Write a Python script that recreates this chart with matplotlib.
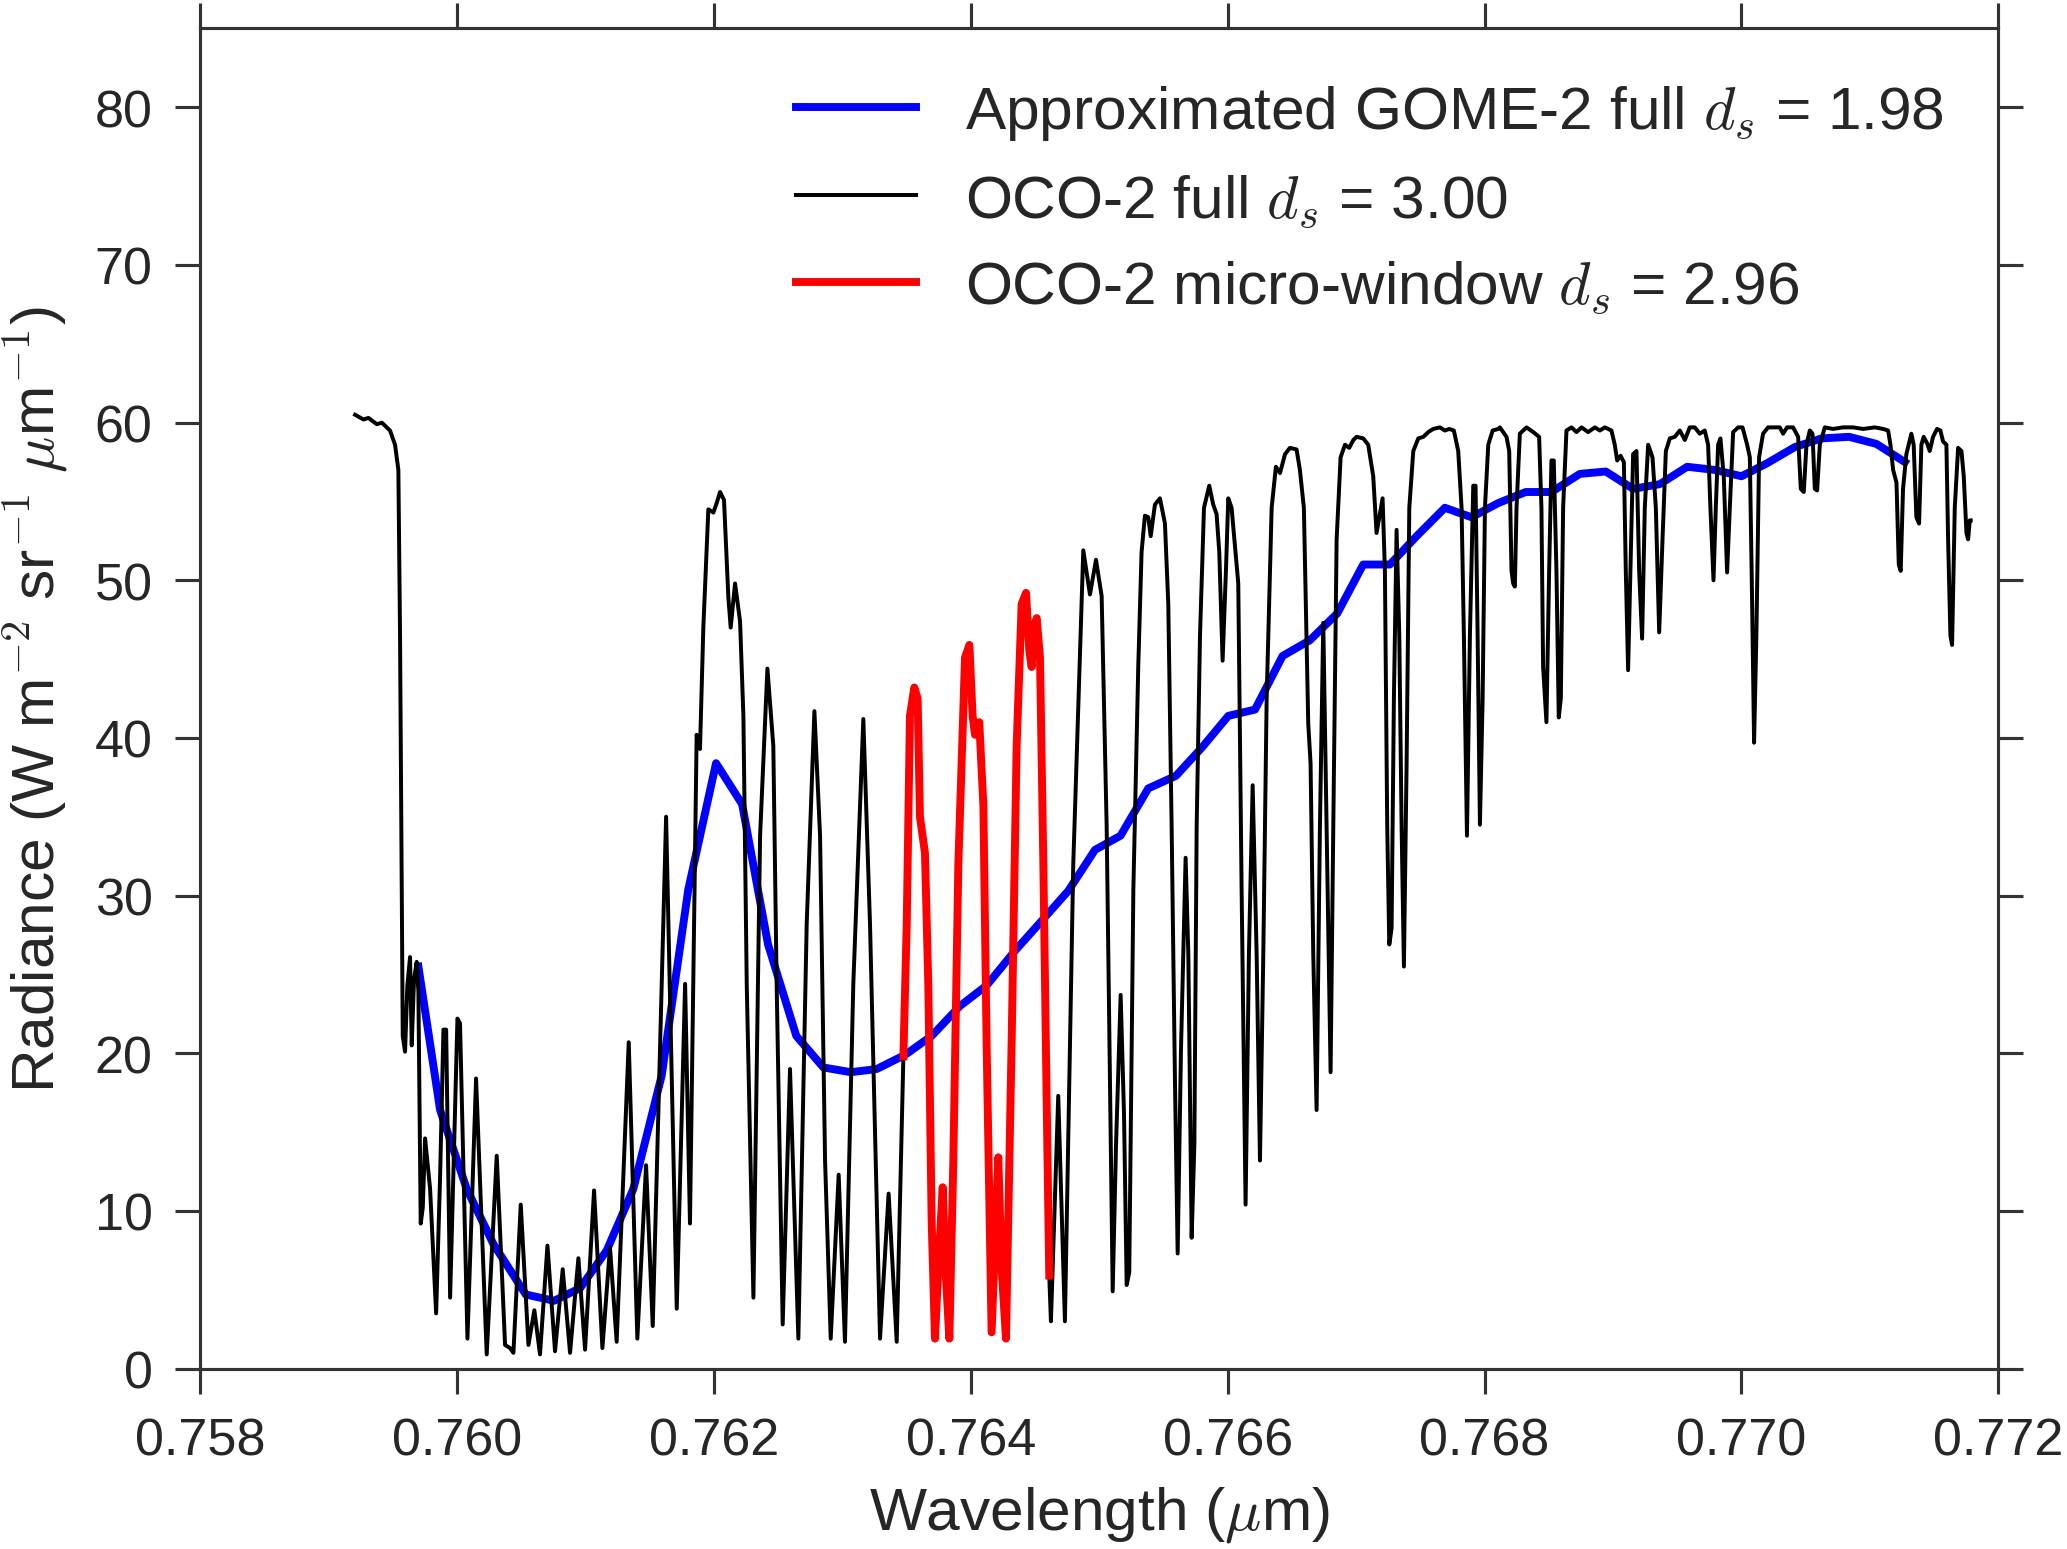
import matplotlib
matplotlib.use("Agg")
import matplotlib.pyplot as plt
import numpy as np

plt.rcParams['font.family'] = ['Liberation Sans', 'DejaVu Sans']
plt.rcParams['mathtext.fontset'] = 'cm'
plt.rcParams['text.color'] = '.15'
plt.rcParams['axes.labelcolor'] = '.15'
plt.rcParams['xtick.color'] = '.15'
plt.rcParams['ytick.color'] = '.15'

# OCO-2 spectrum, left of the micro-window (um, W m-2 sr-1 um-1)
oco_left_wl = [0.759204, 0.759269, 0.759308, 0.759373, 0.759412, 0.759476, 0.759515, 0.759541,
               0.759554, 0.759567, 0.759575, 0.759593, 0.759611, 0.759632, 0.759645, 0.759663,
               0.759684, 0.759697, 0.759715, 0.759731, 0.759749, 0.759788, 0.759835, 0.759866,
               0.759892, 0.759913, 0.759944, 0.760001, 0.760021, 0.760079, 0.760146, 0.760229,
               0.760307, 0.760372, 0.760411, 0.760437, 0.760494, 0.760554, 0.760600, 0.760644,
               0.760702, 0.760761, 0.760821, 0.760878, 0.760943, 0.760995, 0.761065, 0.761130,
               0.761189, 0.761241, 0.761335, 0.761402, 0.761470, 0.761522, 0.761626, 0.761709,
               0.761774, 0.761812, 0.761864, 0.761890, 0.761916, 0.761955, 0.761994, 0.762020,
               0.762046, 0.762077, 0.762111, 0.762129, 0.762163, 0.762202, 0.762228, 0.762254,
               0.762306, 0.762358, 0.762415, 0.762461, 0.762487, 0.762534, 0.762591, 0.762656,
               0.762721, 0.762781, 0.762825, 0.762864, 0.762908, 0.762970, 0.763019, 0.763084,
               0.763162, 0.763214, 0.763292, 0.763359, 0.763422]
oco_left_rad = [60.5, 60.2, 60.3, 59.9, 60.0, 59.5, 58.6, 57.0,
                46.5, 30.4, 21.1, 20.1, 24.3, 26.1, 20.5, 24.7,
                25.8, 23.9, 9.2, 10.2, 14.6, 11.4, 3.5, 12.2,
                21.5, 21.5, 4.5, 22.2, 21.9, 1.9, 18.4, 0.9,
                13.5, 1.5, 1.3, 1.0, 10.4, 1.5, 3.7, 0.9,
                7.8, 1.1, 6.3, 1.0, 7.0, 1.2, 11.3, 1.3,
                7.7, 1.7, 20.7, 1.9, 12.9, 2.7, 35.0, 3.8,
                24.4, 9.2, 40.2, 39.3, 47.0, 54.5, 54.3, 54.9,
                55.6, 55.1, 48.9, 47.0, 49.8, 47.4, 41.4, 24.4,
                4.5, 33.8, 44.4, 39.5, 24.4, 2.8, 19.0, 1.9,
                28.2, 41.7, 33.8, 13.2, 1.9, 12.3, 1.7, 24.4,
                41.2, 28.2, 1.9, 11.1, 1.7]

# OCO-2 micro-window
mw_wl = [0.763474, 0.763500, 0.763525, 0.763559, 0.763585, 0.763603, 0.763642, 0.763668,
         0.763694, 0.763720, 0.763746, 0.763780, 0.763806, 0.763832, 0.763863, 0.763902,
         0.763954, 0.763988, 0.764013, 0.764032, 0.764065, 0.764097, 0.764122, 0.764161,
         0.764213, 0.764239, 0.764273, 0.764317, 0.764356, 0.764395, 0.764429, 0.764455,
         0.764473, 0.764491, 0.764512, 0.764538, 0.764564, 0.764590, 0.764610]
mw_rad = [19.8, 28.2, 41.4, 43.2, 42.5, 35.0, 32.7, 24.4,
          9.4, 1.9, 6.4, 11.5, 5.7, 1.9, 13.2, 32.0,
          45.1, 45.9, 41.4, 40.2, 41.0, 35.7, 20.7, 2.3,
          13.4, 6.4, 1.9, 20.7, 39.5, 48.5, 49.2, 45.5,
          44.5, 47.0, 47.6, 45.1, 32.0, 16.9, 5.9]

# OCO-2 spectrum, right of the micro-window
oco_right_wl = [0.764623, 0.764680, 0.764732, 0.764797, 0.764875, 0.764927, 0.764974, 0.765018,
                0.765057, 0.765104, 0.765130, 0.765166, 0.765192, 0.765213, 0.765233, 0.765265,
                0.765303, 0.765329, 0.765355, 0.765381, 0.765400, 0.765433, 0.765472, 0.765511,
                0.765537, 0.765563, 0.765589, 0.765610, 0.765636, 0.765672, 0.765693, 0.765719,
                0.765740, 0.765758, 0.765784, 0.765815, 0.765856, 0.765887, 0.765913, 0.765934,
                0.765960, 0.765986, 0.766004, 0.766030, 0.766056, 0.766082, 0.766108, 0.766139,
                0.766165, 0.766194, 0.766225, 0.766251, 0.766277, 0.766303, 0.766342, 0.766375,
                0.766407, 0.766446, 0.766484, 0.766536, 0.766562, 0.766593, 0.766627, 0.766645,
                0.766666, 0.766692, 0.766718, 0.766744, 0.766770, 0.766801, 0.766822, 0.766848,
                0.766879, 0.766913, 0.766946, 0.766978, 0.767004, 0.767055, 0.767094, 0.767133,
                0.767159, 0.767185, 0.767206, 0.767224, 0.767242, 0.767258, 0.767276, 0.767294,
                0.767315, 0.767336, 0.767354, 0.767372, 0.767393, 0.767414, 0.767445, 0.767484,
                0.767523, 0.767562, 0.767600, 0.767652, 0.767691, 0.767725, 0.767761, 0.767795,
                0.767821, 0.767839, 0.767863, 0.767886, 0.767912, 0.767930, 0.767946, 0.767964,
                0.767985, 0.768003, 0.768029, 0.768063, 0.768107, 0.768119, 0.768171, 0.768192,
                0.768210, 0.768223, 0.768236, 0.768249, 0.768275, 0.768327, 0.768379, 0.768425,
                0.768443, 0.768456, 0.768482, 0.768503, 0.768521, 0.768539, 0.768560, 0.768578,
                0.768594, 0.768612, 0.768638, 0.768677, 0.768716, 0.768755, 0.768807, 0.768859,
                0.768898, 0.768937, 0.768988, 0.769014, 0.769033, 0.769059, 0.769085, 0.769100,
                0.769118, 0.769136, 0.769157, 0.769183, 0.769204, 0.769227, 0.769248, 0.769274,
                0.769308, 0.769334, 0.769360, 0.769386, 0.769412, 0.769443, 0.769482, 0.769521,
                0.769560, 0.769598, 0.769637, 0.769676, 0.769715, 0.769741, 0.769759, 0.769783,
                0.769801, 0.769819, 0.769837, 0.769863, 0.769889, 0.769910, 0.769936, 0.769975,
                0.770009, 0.770045, 0.770066, 0.770084, 0.770099, 0.770117, 0.770138, 0.770169,
                0.770208, 0.770260, 0.770299, 0.770325, 0.770356, 0.770403, 0.770442, 0.770463,
                0.770486, 0.770507, 0.770533, 0.770554, 0.770572, 0.770590, 0.770611, 0.770650,
                0.770714, 0.770792, 0.770870, 0.770948, 0.771039, 0.771104, 0.771143, 0.771161,
                0.771182, 0.771208, 0.771226, 0.771241, 0.771259, 0.771285, 0.771324, 0.771342,
                0.771363, 0.771384, 0.771402, 0.771420, 0.771446, 0.771467, 0.771493, 0.771524,
                0.771550, 0.771571, 0.771597, 0.771610, 0.771628, 0.771641, 0.771662, 0.771688,
                0.771714, 0.771732, 0.771753, 0.771766, 0.771779, 0.771786]
oco_right_rad = [3.0, 17.3, 3.0, 32.0, 51.9, 49.1, 51.3, 49.0,
                 34.4, 4.9, 14.2, 23.7, 16.2, 5.3, 6.1, 30.4,
                 44.5, 51.8, 54.1, 54.0, 52.8, 54.8, 55.2, 53.6,
                 48.5, 34.4, 18.2, 7.3, 20.3, 32.4, 26.3, 8.3,
                 14.2, 34.4, 46.5, 54.6, 56.0, 54.8, 54.2, 51.8,
                 44.9, 50.6, 55.2, 54.6, 52.2, 49.8, 30.4, 10.4,
                 26.3, 37.0, 26.3, 13.2, 26.3, 42.5, 54.6, 57.2,
                 56.8, 58.0, 58.4, 58.3, 57.0, 54.6, 40.9, 38.4,
                 26.3, 16.4, 34.4, 47.3, 34.4, 18.8, 34.4, 52.6,
                 57.8, 58.6, 58.4, 58.9, 59.1, 59.0, 58.6, 56.6,
                 53.0, 54.2, 55.2, 50.6, 34.4, 26.9, 27.9, 42.5,
                 53.2, 46.5, 34.4, 25.5, 38.4, 54.6, 58.2, 59.0,
                 59.1, 59.4, 59.6, 59.7, 59.5, 59.6, 59.5, 58.2,
                 54.6, 46.5, 33.8, 46.5, 56.0, 56.0, 46.5, 34.5,
                 42.5, 54.6, 58.6, 59.5, 59.6, 59.7, 59.1, 58.2,
                 50.6, 49.8, 49.6, 54.6, 59.3, 59.7, 59.4, 59.1,
                 54.6, 44.5, 41.0, 50.6, 57.6, 57.6, 50.6, 41.3,
                 42.5, 54.6, 59.5, 59.7, 59.4, 59.7, 59.4, 59.7,
                 59.5, 59.7, 59.5, 58.6, 57.6, 57.9, 57.5, 50.6,
                 44.3, 50.6, 58.0, 58.2, 50.6, 46.3, 54.6, 58.6,
                 57.8, 54.6, 46.7, 52.6, 58.2, 59.0, 59.1, 59.5,
                 58.9, 59.7, 59.7, 59.3, 59.5, 58.6, 54.6, 50.0,
                 54.6, 58.6, 59.0, 56.6, 50.5, 54.6, 59.4, 59.7,
                 59.7, 58.6, 57.8, 48.5, 39.7, 46.5, 57.8, 59.3,
                 59.7, 59.7, 59.7, 59.3, 59.7, 59.7, 59.1, 55.8,
                 55.6, 58.6, 59.5, 59.3, 55.8, 55.7, 58.6, 59.7,
                 59.6, 59.7, 59.7, 59.6, 59.7, 59.6, 59.5, 58.6,
                 57.0, 56.2, 51.0, 50.6, 55.8, 58.0, 59.3, 58.6,
                 54.0, 53.6, 58.6, 59.1, 58.7, 58.2, 59.1, 59.6,
                 59.5, 58.8, 58.6, 52.6, 46.5, 45.9, 54.6, 58.4,
                 58.2, 56.6, 53.0, 52.6, 53.8, 53.8]

# approximated GOME-2 spectrum
gome_wl = [0.759697, 0.759866, 0.760073, 0.760281, 0.760533, 0.760753, 0.760956, 0.761164,
           0.761371, 0.761592, 0.761799, 0.762015, 0.762218, 0.762420, 0.762640, 0.762851,
           0.763065, 0.763266, 0.763487, 0.763694, 0.763915, 0.764122, 0.764343, 0.764551,
           0.764758, 0.764966, 0.765165, 0.765381, 0.765597, 0.765800, 0.766004, 0.766212,
           0.766427, 0.766640, 0.766853, 0.767055, 0.767263, 0.767471, 0.767691, 0.767899,
           0.768107, 0.768321, 0.768521, 0.768742, 0.768944, 0.769157, 0.769365, 0.769578,
           0.769793, 0.770001, 0.770195, 0.770416, 0.770624, 0.770839, 0.771052, 0.771273]
gome_rad = [25.5, 16.4, 11.4, 7.9, 4.7, 4.3, 5.1, 7.5,
            11.4, 18.6, 30.4, 38.4, 35.8, 26.9, 21.1, 19.1,
            18.8, 19.0, 19.9, 21.1, 23.0, 24.3, 26.5, 28.4,
            30.3, 32.9, 33.8, 36.8, 37.6, 39.4, 41.4, 41.8,
            45.2, 46.2, 47.9, 51.0, 51.0, 52.8, 54.6, 54.0,
            54.9, 55.6, 55.6, 56.75, 56.9, 55.8, 56.1, 57.2,
            57.0, 56.6, 57.4, 58.45, 59.0, 59.1, 58.65, 57.5]

oco_wl = np.concatenate([oco_left_wl, mw_wl, oco_right_wl])
oco_rad = np.concatenate([oco_left_rad, mw_rad, oco_right_rad])

fig = plt.figure(figsize=(13.78, 10.333), dpi=150)
ax = fig.add_axes([0.097, 0.1164, 0.8697, 0.8646])

l_gome, = ax.plot(gome_wl, gome_rad, color='blue', lw=3.8, label=r'Approximated GOME-2 full $d_s$ = 1.98', zorder=2)
l_oco, = ax.plot(oco_wl, oco_rad, color='black', lw=1.9, label=r'OCO-2 full $d_s$ = 3.00', zorder=3)
l_mw, = ax.plot(mw_wl, mw_rad, color='red', lw=3.8, label=r'OCO-2 micro-window $d_s$ = 2.96', zorder=4)

ax.set_xlim(0.758, 0.772)
ax.set_ylim(0, 85)
ax.set_xticks(np.arange(0.758, 0.7721, 0.002))
ax.set_xticklabels(['0.758', '0.760', '0.762', '0.764', '0.766', '0.768', '0.770', '0.772'])
ax.set_yticks(np.arange(0, 81, 10))

for s in ax.spines.values():
    s.set_color('.2')
    s.set_linewidth(1.5)
ax.tick_params(direction='out', length=12, width=1.5, labelsize=25, color='.2',
               top=True, right=True, pad=11)

ax.set_xlabel(r'Wavelength ($\mu$m)', fontsize=29, labelpad=9)
ax.set_ylabel(r'Radiance (W m$^{-2}$ sr$^{-1}$ $\mu$m$^{-1}$)', fontsize=29, labelpad=12)

ax.legend(handles=[l_gome, l_oco, l_mw], loc='upper right', frameon=False, fontsize=29,
          handlelength=2.0, labelspacing=0.5, borderaxespad=0.5)

fig.savefig('out.png', dpi=150)
